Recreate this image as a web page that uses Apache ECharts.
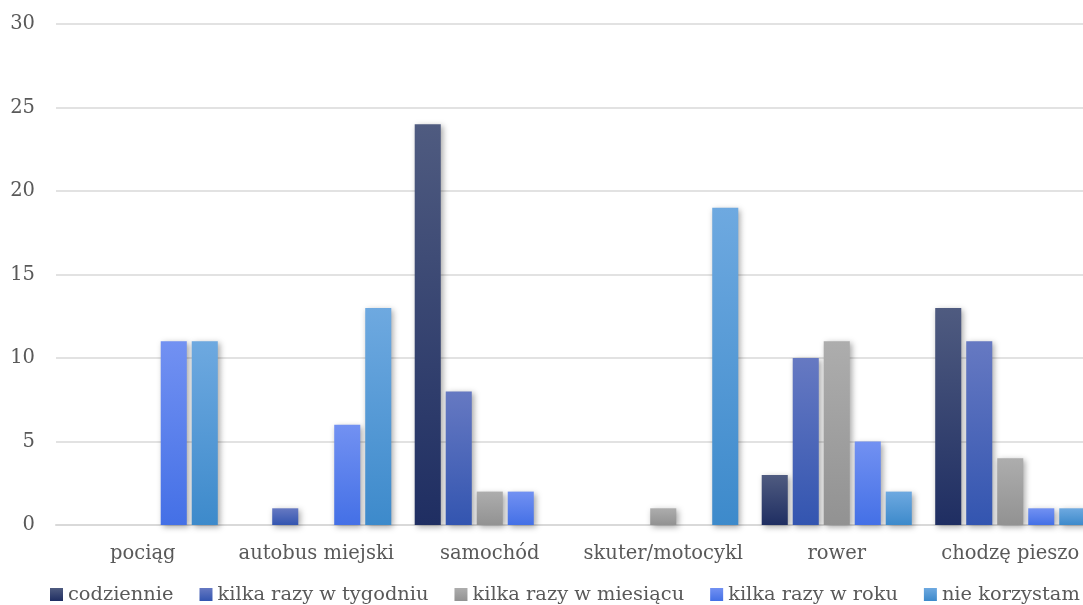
<!DOCTYPE html>
<html>
<head>
<meta charset="utf-8">
<script src="https://cdn.jsdelivr.net/npm/echarts@6/dist/echarts.min.js"></script>
<style>
  html, body { margin: 0; padding: 0; background: #ffffff; overflow: hidden; }
  #chart { width: 1130px; height: 605px; }
</style>
</head>
<body>
<div id="chart"></div>
<script>
// Środki transportu i częstotliwość korzystania
const categories = ['pociąg', 'autobus miejski', 'samochód', 'skuter/motocykl', 'rower', 'chodzę pieszo'];
const seriesNames = ['codziennie', 'kilka razy w tygodniu', 'kilka razy w miesiącu', 'kilka razy w roku', 'nie korzystam'];

const codziennie = [0, 0, 24, 0, 3, 13];
const kilkaRazyWTygodniu = [0, 1, 8, 0, 10, 11];
const kilkaRazyWMiesiacu = [0, 0, 2, 1, 11, 4];
const kilkaRazyWRoku = [11, 6, 2, 0, 5, 1];
const nieKorzystam = [11, 13, 0, 19, 2, 1];

const yTicks = [0, 5, 10, 15, 20, 25, 30];

const seriesValues = [codziennie, kilkaRazyWTygodniu, kilkaRazyWMiesiacu, kilkaRazyWRoku, nieKorzystam];

// top / bottom colours of each bar's vertical gradient
const gradients = [
  ['#4f5b80', '#1f2e62'],
  ['#6679c2', '#3355b0'],
  ['#adadad', '#929292'],
  ['#7291f2', '#4470e6'],
  ['#6ea9e0', '#3d8acb']
];

const font = '"DejaVu Serif", serif';
const textColor = '#595959';

const chart = echarts.init(document.getElementById('chart'), null, { renderer: 'canvas' });

const series = seriesValues.map((vals, i) => ({
  name: seriesNames[i],
  type: 'bar',
  barGap: '19%',
  barCategoryGap: '13.5%',
  data: vals.map(v => (v === 0 ? null : v)),
  itemStyle: {
    color: new echarts.graphic.LinearGradient(0, 0, 0, 1, [
      { offset: 0, color: gradients[i][0] },
      { offset: 1, color: gradients[i][1] }
    ]),
    shadowBlur: 6,
    shadowColor: 'rgba(0,0,0,0.35)',
    shadowOffsetX: 2,
    shadowOffsetY: 2
  },
  emphasis: { disabled: true }
}));

chart.setOption({
  animation: false,
  backgroundColor: '#ffffff',
  // the plot runs slightly past the visible right edge
  grid: { left: 56, right: 33, top: 24, bottom: 80, containLabel: false },
  legend: {
    bottom: 1,
    left: 50,
    width: 1075,
    padding: 0,
    itemWidth: 13,
    itemHeight: 13,
    itemGap: 26,
    icon: 'rect',
    data: seriesNames.map((n, i) => ({
      name: n,
      itemStyle: {
        color: new echarts.graphic.LinearGradient(0, 0, 0, 1, [
          { offset: 0, color: gradients[i][0] },
          { offset: 1, color: gradients[i][1] }
        ]),
        shadowBlur: 0
      }
    })),
    textStyle: { fontFamily: font, fontSize: 19.4, color: textColor, padding: [0, 0, 0, 0] }
  },
  xAxis: {
    type: 'category',
    data: categories,
    axisTick: { show: false },
    axisLine: { lineStyle: { color: '#d9d9d9', width: 2 } },
    axisLabel: { interval: 0, fontFamily: font, fontSize: 19.5, color: textColor, margin: 19 }
  },
  yAxis: {
    type: 'value',
    min: yTicks[0],
    max: yTicks[yTicks.length - 1],
    interval: yTicks[1] - yTicks[0],
    axisLine: { show: false },
    axisTick: { show: false },
    splitLine: { lineStyle: { color: '#d9d9d9', width: 1.5 } },
    axisLabel: { fontFamily: font, fontSize: 19.5, color: textColor, margin: 21 }
  },
  series: series
});
</script>
</body>
</html>
